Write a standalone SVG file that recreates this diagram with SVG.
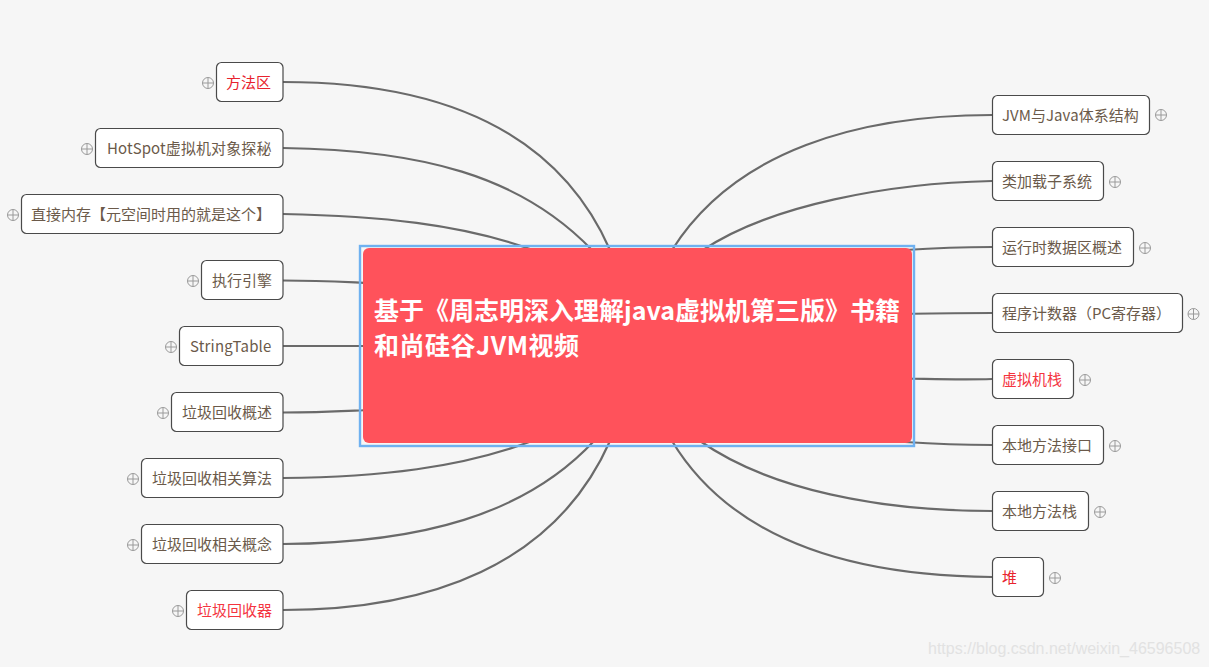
<svg xmlns="http://www.w3.org/2000/svg" width="1209" height="667" viewBox="0 0 1209 667">
<style>
.bg{fill:#f6f6f6}
.n{fill:#fff;stroke:#4a4a4a;stroke-width:1.2}
.t{font-family:"Noto Sans CJK SC","Noto Sans",sans-serif;font-size:15px;fill:#6b5a4a}
.r{fill:#e8232e}
.r2{fill:#f4343f}
.c{fill:none;stroke:#6a6a6a;stroke-width:2.2}
.p circle{fill:none;stroke:#9a9a9a;stroke-width:1}
.p path{fill:none;stroke:#9a9a9a;stroke-width:1}
.wm{font-family:"Liberation Sans",Arial,sans-serif;font-size:16px;fill:#e2e2e2}
.h{font-family:"Noto Sans CJK SC","Noto Sans",sans-serif;font-size:25px;font-weight:700;fill:#fff}
</style>
<defs>
<g id="plus" class="p"><circle r="5.5"/><path d="M-5.5 0H5.5M0-5.5V5.500"/></g>
</defs>
<rect class="bg" width="1209" height="667"/>
<g id="connectors">
<path class="c" d="M283 82C430 82 555 125 610 250"/>
<path class="c" d="M283 148C420 150 520 175 592 250"/>
<path class="c" d="M283 214C380 216 460 224 530 249"/>
<path class="c" d="M283 280.500C320 280.500 345 282 370 283"/>
<path class="c" d="M283 346H370"/>
<path class="c" d="M283 412.500C320 412.500 345 411 370 410"/>
<path class="c" d="M283 478C380 477 460 468 532 441"/>
<path class="c" d="M283 544C420 543 525 515 594 441"/>
<path class="c" d="M283 610C430 610 555 565 610 441"/>
<path class="c" d="M992 115C860 115 735 150 672 250"/>
<path class="c" d="M992 181C890 183 770 205 703 250"/>
<path class="c" d="M992 247C960 247 935 248 905 250"/>
<path class="c" d="M992 313C960 313 935 313 905 314"/>
<path class="c" d="M992 379C960 380 935 379 905 378.500"/>
<path class="c" d="M992 445C960 445 935 444 905 442"/>
<path class="c" d="M992 511C880 511 770 490 700 441"/>
<path class="c" d="M992 577C860 576 735 545 672 441"/>
</g>
<g id="root">
<rect x="360" y="246" width="554" height="200" fill="none" stroke="#6fb1f0" stroke-width="2.400"/>
<rect x="363" y="248" width="549" height="195" rx="6" fill="#ff525b"/>
<text class="h" x="374" y="320">基于《周志明深入理解java虚拟机第三版》书籍</text>
<text class="h" x="374" y="355" letter-spacing="0.5">和尚硅谷JVM视频</text>
</g>
<g id="n1"><rect class="n" x="216.500" y="62.500" width="66.500" height="39" rx="5"/><text class="t r" x="226" y="88">方法区</text><use href="#plus" x="208" y="83"/></g>
<g id="n2"><rect class="n" x="95.500" y="128.500" width="187.500" height="39" rx="5"/><text class="t" x="107" y="154" letter-spacing="0.1">HotSpot虚拟机对象探秘</text><use href="#plus" x="87" y="149"/></g>
<g id="n3"><rect class="n" x="21.500" y="194.500" width="261.500" height="39" rx="5"/><text class="t" x="31" y="220">直接内存【元空间时用的就是这个】</text><use href="#plus" x="13" y="215"/></g>
<g id="n4"><rect class="n" x="201.500" y="260.500" width="81.500" height="39" rx="5"/><text class="t" x="212" y="286">执行引擎</text><use href="#plus" x="193" y="281"/></g>
<g id="n5"><rect class="n" x="179.500" y="326.500" width="103.500" height="39" rx="5"/><text class="t" x="190" y="352" letter-spacing="0.2">StringTable</text><use href="#plus" x="171" y="347"/></g>
<g id="n6"><rect class="n" x="171.500" y="392.500" width="111.500" height="39" rx="5"/><text class="t" x="182" y="418">垃圾回收概述</text><use href="#plus" x="163" y="413"/></g>
<g id="n7"><rect class="n" x="141.500" y="458.500" width="141.500" height="39" rx="5"/><text class="t" x="152" y="484">垃圾回收相关算法</text><use href="#plus" x="133" y="479"/></g>
<g id="n8"><rect class="n" x="141.500" y="524.500" width="141.500" height="39" rx="5"/><text class="t" x="152" y="550">垃圾回收相关概念</text><use href="#plus" x="133" y="545"/></g>
<g id="n9"><rect class="n" x="186.500" y="590.500" width="96.500" height="39" rx="5"/><text class="t r2" x="197" y="616">垃圾回收器</text><use href="#plus" x="178" y="611"/></g>
<g id="n10"><rect class="n" x="992.500" y="95.500" width="157" height="39" rx="5"/><text class="t" x="1002" y="121" letter-spacing="0.05">JVM与Java体系结构</text><use href="#plus" x="1161" y="115"/></g>
<g id="n11"><rect class="n" x="992.500" y="161.500" width="111" height="39" rx="5"/><text class="t" x="1002" y="187">类加载子系统</text><use href="#plus" x="1115" y="182"/></g>
<g id="n12"><rect class="n" x="992.500" y="227.500" width="141" height="39" rx="5"/><text class="t" x="1002" y="253">运行时数据区概述</text><use href="#plus" x="1145" y="248"/></g>
<g id="n13"><rect class="n" x="992.500" y="293.500" width="190" height="39" rx="5"/><text class="t" x="1002" y="319">程序计数器（PC寄存器）</text><use href="#plus" x="1193.500" y="314"/></g>
<g id="n14"><rect class="n" x="992.500" y="359.500" width="81" height="39" rx="5"/><text class="t r2" x="1002" y="385">虚拟机栈</text><use href="#plus" x="1085" y="380"/></g>
<g id="n15"><rect class="n" x="992.500" y="425.500" width="111" height="39" rx="5"/><text class="t" x="1002" y="451">本地方法接口</text><use href="#plus" x="1115" y="446"/></g>
<g id="n16"><rect class="n" x="992.500" y="491.500" width="96" height="39" rx="5"/><text class="t" x="1002" y="517">本地方法栈</text><use href="#plus" x="1100" y="512"/></g>
<g id="n17"><rect class="n" x="992.500" y="557.500" width="51" height="39" rx="5"/><text class="t r" x="1002" y="583">堆</text><use href="#plus" x="1055" y="578"/></g>
<text class="wm" x="928" y="654">https://blog.csdn.net/weixin_46596508</text>
</svg>
